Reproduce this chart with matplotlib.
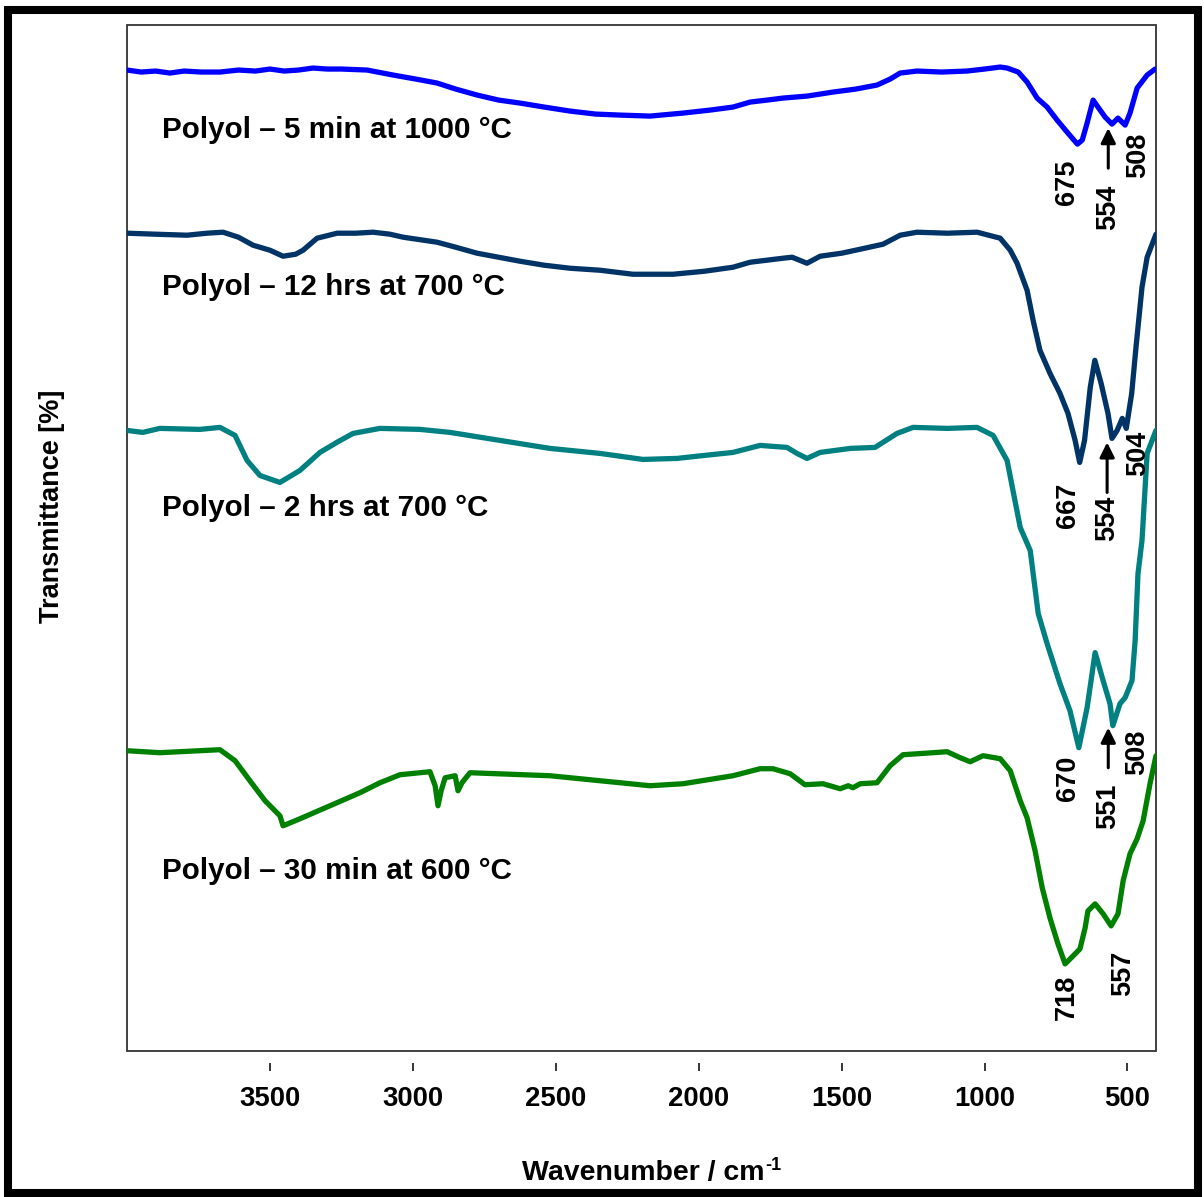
import numpy as np
import matplotlib
matplotlib.use('Agg')
import matplotlib.pyplot as plt
from matplotlib.patches import Rectangle

plt.rcParams['font.family'] = ['Liberation Sans', 'DejaVu Sans']
plt.rcParams['font.weight'] = 'bold'

# FTIR spectra (wavenumber in cm-1, transmittance in arbitrary offset units)
wn_5min = [4000, 3950, 3900, 3850, 3800, 3740, 3675, 3610, 3550, 3500, 3450, 3400, 3349, 3300,
           3250, 3160, 3069, 2990, 2915, 2850, 2775, 2700, 2625, 2540, 2450, 2360,
           2275, 2170, 2055, 1960, 1880, 1820, 1760, 1705, 1620, 1530, 1450, 1376, 1330, 1295,
           1236, 1150, 1061, 1000, 945, 921, 882,
           851, 816, 781, 746, 711, 675, 658, 641, 620, 603, 578, 554, 533, 508, 491, 466, 431, 403]
t_5min = [980, 978, 979, 977, 979, 978, 978, 980, 979, 981, 979, 980, 982, 981,
          981, 980, 975, 971, 967, 961, 955, 950, 947, 943, 939, 936,
          935, 934, 937, 940, 943, 948, 950, 952, 954, 958, 961, 965, 971, 977,
          979, 978, 979, 981, 983, 982, 978,
          968, 952, 943, 930, 918, 906, 910, 927, 950, 943, 933, 926, 932, 925, 937, 962, 975, 981]

wn_12h = [4000, 3900, 3790, 3720, 3664, 3610, 3559, 3500, 3454, 3410, 3384, 3335, 3265, 3200,
          3139, 3080, 3034, 2915, 2850, 2775, 2700, 2625, 2540, 2450,
          2345, 2230, 2090, 1980, 1880, 1820, 1705, 1673, 1621, 1575, 1500, 1435, 1355, 1295,
          1236, 1130, 1026,
          945, 910, 886, 851, 830, 806, 771, 736, 708, 683, 667, 650, 630, 614, 592, 568, 554,
          536, 518, 504, 485, 470, 449, 431, 400]
t_12h = [817, 816, 815, 817, 818, 813, 805, 800, 794, 796, 800, 812, 817, 817,
         818, 816, 813, 808, 803, 797, 793, 789, 785, 782,
         780, 776, 776, 779, 783, 788, 792, 793, 787, 794, 797, 801, 806, 815,
         818, 817, 818,
         812, 800, 787, 760, 730, 700, 677, 657, 637, 610, 588, 610, 663, 690, 667, 637, 612,
         620, 632, 622, 657, 703, 763, 793, 816]

wn_2h = [4000, 3945, 3885, 3745, 3675, 3622, 3580, 3535, 3465, 3395, 3325, 3260, 3209, 3115,
         2975, 2870, 2695, 2520, 2345, 2195, 2076, 1980, 1880, 1785, 1691, 1656, 1621, 1575,
         1470, 1383, 1306, 1250, 1130, 1026, 970, 921, 875, 840, 812, 781, 736, 701, 670, 641,
         613, 585, 561, 551, 526, 508, 484, 473, 463, 449, 431, 400]
t_2h = [620, 618, 622, 621, 623, 615, 590, 575, 568, 580, 598, 609, 617, 622,
        621, 618, 610, 602, 597, 591, 592, 595, 598, 605, 603, 597, 592, 598,
        602, 603, 617, 623, 622, 623, 615, 590, 523, 500, 437, 407, 367, 340, 303, 343,
        398, 370, 347, 325, 347, 353, 370, 410, 477, 510, 597, 620]

wn_30min = [4000, 3885, 3745, 3675, 3622, 3570, 3517, 3465, 3454, 3395, 3290, 3185, 3115, 3045,
            2940, 2922, 2912, 2901, 2887, 2852, 2842, 2828, 2800, 2520, 2345, 2170, 2055, 1880,
            1785, 1740, 1680, 1628, 1565, 1505, 1477, 1460, 1435, 1376, 1330, 1285, 1180, 1131,
            1085, 1050, 1005, 945, 910, 875, 851, 823, 798, 771, 743, 718, 690, 666, 648, 638,
            613, 585, 557, 533, 515, 491, 466, 445, 421, 400]
t_30min = [300, 298, 300, 301, 290, 270, 250, 235, 225, 232, 245, 258, 268, 276,
           279, 265, 245, 260, 273, 275, 260, 268, 278, 275, 270, 265, 267, 275,
           282, 282, 277, 266, 267, 262, 265, 263, 267, 268, 285, 296, 298, 299,
           293, 289, 295, 292, 280, 250, 233, 200, 163, 133, 107, 87, 95, 102, 123, 140,
           147, 137, 125, 137, 170, 197, 212, 230, 267, 295]

labels = ['Polyol \u2013 5 min at 1000 \u00b0C', 'Polyol \u2013 12 hrs at 700 \u00b0C',
          'Polyol \u2013 2 hrs at 700 \u00b0C', 'Polyol \u2013 30 min at 600 \u00b0C']
colors = ['#0000FF', '#003366', '#008080', '#008000']
label_y = [912, 755, 534, 172]

# peak labels: (text, x, y)
peaks = [('675', 711, 868), ('554', 567, 843), ('508', 463, 895),
         ('667', 707, 545), ('554', 571, 532), ('504', 463, 597),
         ('670', 707, 272), ('551', 567, 244), ('508', 466, 298),
         ('718', 711, 54), ('557', 515, 78)]
# arrows: (x, y tail, y head)
arrows = [(567, 882, 922), (571, 558, 608), (567, 283, 323)]

fig = plt.figure(figsize=(12.04, 11.97), dpi=100)
ax = fig.add_axes([127/1204, 1-1051/1197, 1029/1204, 1026/1197])

spectra = [(wn_5min, t_5min), (wn_12h, t_12h), (wn_2h, t_2h), (wn_30min, t_30min)]
for (w, t), c, lab, ly in zip(spectra, colors, labels, label_y):
    ax.plot(w, t, color=c, lw=3.8, solid_capstyle='round', solid_joinstyle='round')
    ax.text(3878, ly, lab, fontsize=21.3, fontweight='bold', ha='left', va='baseline')

for txt, x, y in peaks:
    ax.text(x, y, txt, rotation=90, fontsize=19.5, fontweight='bold', ha='center', va='center')
for x, y0, y1 in arrows:
    ax.annotate('', xy=(x, y1), xytext=(x, y0),
                arrowprops=dict(arrowstyle='-|>', color='k', lw=2.2, mutation_scale=22,
                                shrinkA=0, shrinkB=0))

ax.set_xlim(4000, 400)
ax.set_ylim(0, 1025)
ax.set_xticks([3500, 3000, 2500, 2000, 1500, 1000, 500])
ax.set_yticks([])
for s in ['top', 'right', 'left']:
    ax.spines[s].set_visible(False)
ax.spines['bottom'].set_position(('outward', 14.4))
ax.spines['bottom'].set_visible(False)
ax.add_patch(Rectangle((0, 0), 1, 1, transform=ax.transAxes, fill=False,
                       lw=1.3, edgecolor='#333333', clip_on=False))
ax.tick_params(axis='x', direction='in', length=5.8, width=1.1, pad=10.8, labelsize=19.8)
for lbl in ax.get_xticklabels():
    lbl.set_fontweight('bold')

# x label with a hyphen superscript
xl = fig.text(522/1204, 1-1180/1197, 'Wavenumber / cm', fontsize=20.5,
              fontweight='bold', ha='left', va='baseline')
fig.canvas.draw()
bb = xl.get_window_extent()
fig.text(bb.x1/1204 + 1/1204, 1-1180/1197 + 10/1197, '-1', fontsize=13,
         fontweight='bold', ha='left', va='baseline')
fig.text(52/1204, 1-506/1197, 'Transmittance [%]', fontsize=19.5, fontweight='bold',
         rotation=90, ha='center', va='center')

# outer frame
fig.patches.append(Rectangle((8/1204, 4/1197), 1190/1204, 1183/1197, transform=fig.transFigure,
                             fill=False, lw=5.8, edgecolor='black'))

fig.savefig('out.png', dpi=100, facecolor='white')
